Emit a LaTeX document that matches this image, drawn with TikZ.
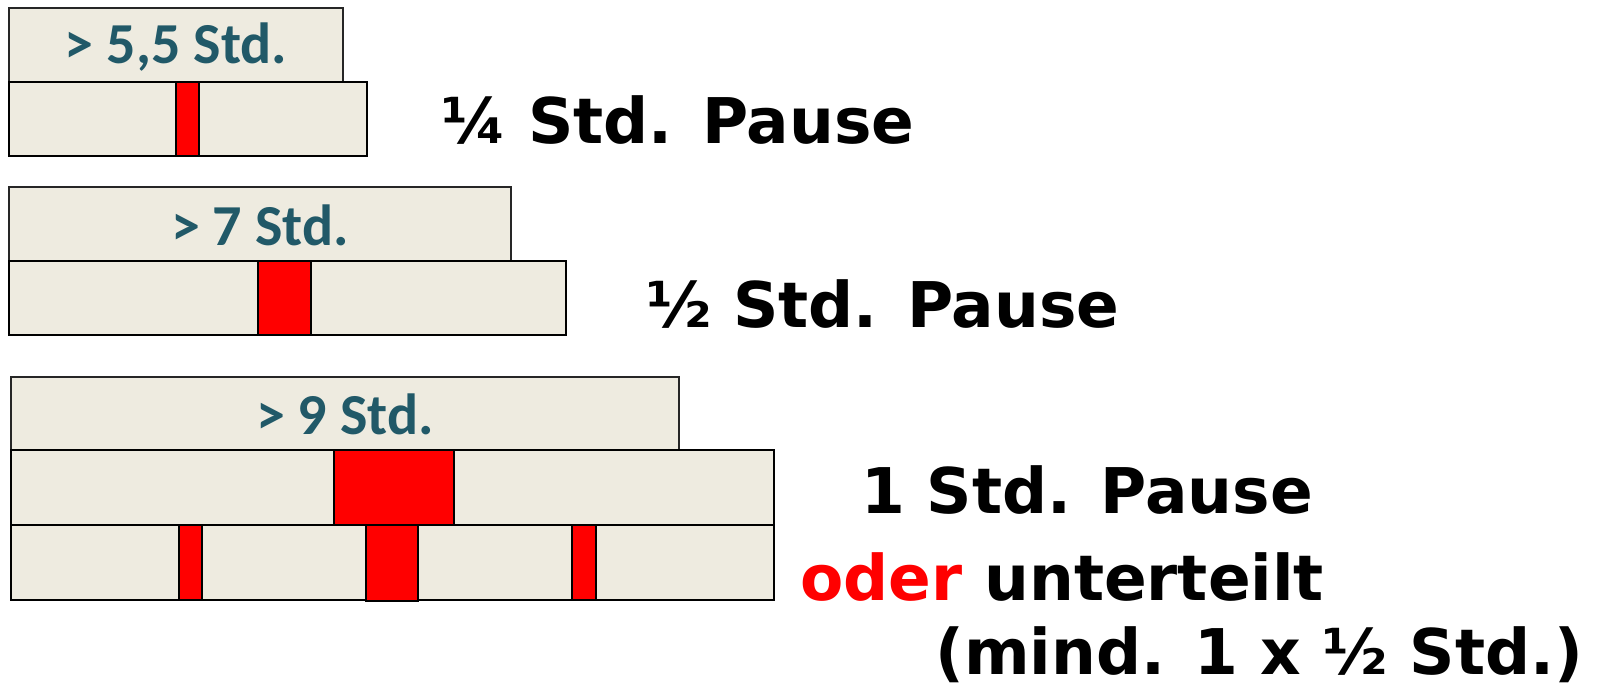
\documentclass[tikz,border=0pt]{standalone}
\usepackage{fontspec}
\setmainfont{DejaVu Sans}
\newfontfamily\labelfont{Carlito}
\definecolor{barfill}{HTML}{EEEBE0}
\definecolor{labteal}{HTML}{215968}
\definecolor{pausered}{HTML}{FF0000}
\tikzset{
  bar/.style={draw=black, line width=2.4pt, fill=barfill},
  topbox/.style={draw=black!85, line width=2.4pt, fill=barfill},
  pause/.style={draw=black, line width=2.4pt, fill=pausered},
  lab/.style={inner sep=0pt, text=labteal, font=\labelfont\bfseries\fontsize{58}{70}\selectfont},
  rtext/.style={inner sep=0pt, anchor=base west, font=\bfseries\fontsize{63}{76}\selectfont},
}
\begin{document}
\begin{tikzpicture}[x=1pt,y=-1pt]
\useasboundingbox (0,0) rectangle (1602,685);
% row 1
\path[topbox] (9,8) rectangle (343,82);
\path[bar] (9,82) rectangle (367,156);
\path[pause] (176,82) rectangle (199,156);
\node[lab] (l1) at (176,47) {> 5,5 Std.};
% row 2
\path[topbox] (9,187) rectangle (511,261);
\path[bar] (9,261) rectangle (566,335);
\path[pause] (258,261) rectangle (311,335);
\node[lab] (l2) at (260,225) {> 7 Std.};
% row 3
\path[topbox] (11,377) rectangle (679,450);
\path[bar] (11,450) rectangle (774,525);
\path[bar] (11,525) rectangle (774,600);
\path[pause] (334,450) rectangle (454,525);
\path[pause] (179,525) rectangle (202,600);
\path[pause] (366,525) rectangle (418,601);
\path[pause] (572,525) rectangle (596,600);
\node[lab] (l3) at (345,414) {> 9 Std.};
% right texts
\node[rtext] (t1) at (441,143) {¼ Std. Pause};
\node[rtext] (t2) at (646,327) {½ Std. Pause};
\node[rtext] (t3) at (861,513) {1 Std. Pause};
\node[rtext] (t4) at (800,600) {\textcolor{pausered}{oder} unterteilt};
\node[rtext] (t5) at (935,674) {(mind. 1 x ½ Std.)};
\end{tikzpicture}
\end{document}
